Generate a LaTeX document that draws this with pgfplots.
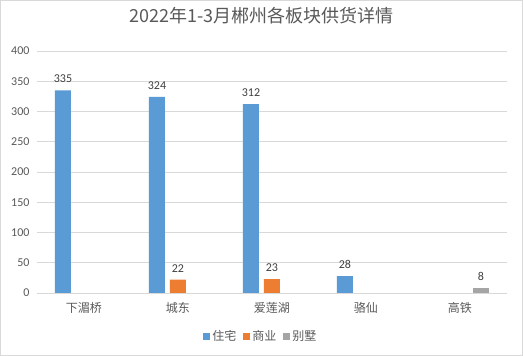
\documentclass[border=0pt]{standalone}
\usepackage{pgfplots}
\pgfplotsset{compat=1.18}
\usepackage{fontspec}
\setmainfont{Carlito}
\newfontfamily\cjk{Noto Sans CJK SC}
\definecolor{cblue}{RGB}{91,155,213}
\definecolor{corange}{RGB}{237,125,49}
\definecolor{cgray}{RGB}{165,165,165}
\definecolor{ctext}{RGB}{89,89,89}
\definecolor{clabel}{RGB}{64,64,64}
\definecolor{cgrid}{RGB}{217,217,217}
\begin{document}
\begin{tikzpicture}
\fill[white] (-37pt,-63pt) rectangle (486pt,293pt);
\draw[cgrid, line width=0.8pt] (-36.6pt,-62.6pt) rectangle (485.6pt,292.6pt);
\begin{axis}[
  at={(0,0)}, anchor=south west,
  scale only axis, width=470pt, height=242pt,
  ybar=5pt, bar width=16pt,
  xmin=-0.5, xmax=4.5, ymin=0, ymax=400,
  ytick distance=50,
  xtick={0,1,2,3,4},
  xticklabels={下湄桥,城东,爱莲湖,骆仙,高铁},
  xticklabel style={font=\cjk\fontsize{12}{14}\selectfont, text=ctext, yshift=-6pt},
  yticklabel style={font=\fontsize{12}{14}\selectfont, text=ctext, xshift=-4pt},
  /pgf/number format/assume math mode=true,
  major tick length=0pt,
  ymajorgrids, grid style={cgrid, line width=0.8pt},
  axis x line*=bottom, axis y line*=left,
  x axis line style={cgrid, line width=0.8pt, -},
  y axis line style={draw=none},
  title={2022年1-3月郴州各板块供货详情},
  title style={font=\cjk\fontsize{18}{20}\selectfont, text=ctext, at={(0.5,1)}, anchor=center, yshift=29pt, xshift=-10.5pt},
  nodes near coords,
  every node near coord/.append style={font=\fontsize{12}{14}\selectfont, text=clabel, yshift=4pt},
  legend style={at={(0.4766,-0.178)}, anchor=center, draw=none, legend columns=-1, font=\cjk\fontsize{12}{14}\selectfont, text=ctext, /tikz/every even column/.append style={column sep=5pt}},
  legend image code/.code={\fill[#1] (0pt,-3.5pt) rectangle (7pt,3.5pt);},
]
\addplot[fill=cblue, draw=none] coordinates {(0,335) (1,324) (2,312) (3,28)};
\addplot[fill=corange, draw=none] coordinates {(1,22) (2,23)};
\addplot[fill=cgray, draw=none] coordinates {(4,8)};
\legend{住宅,商业,别墅}
\end{axis}
\end{tikzpicture}
\end{document}
